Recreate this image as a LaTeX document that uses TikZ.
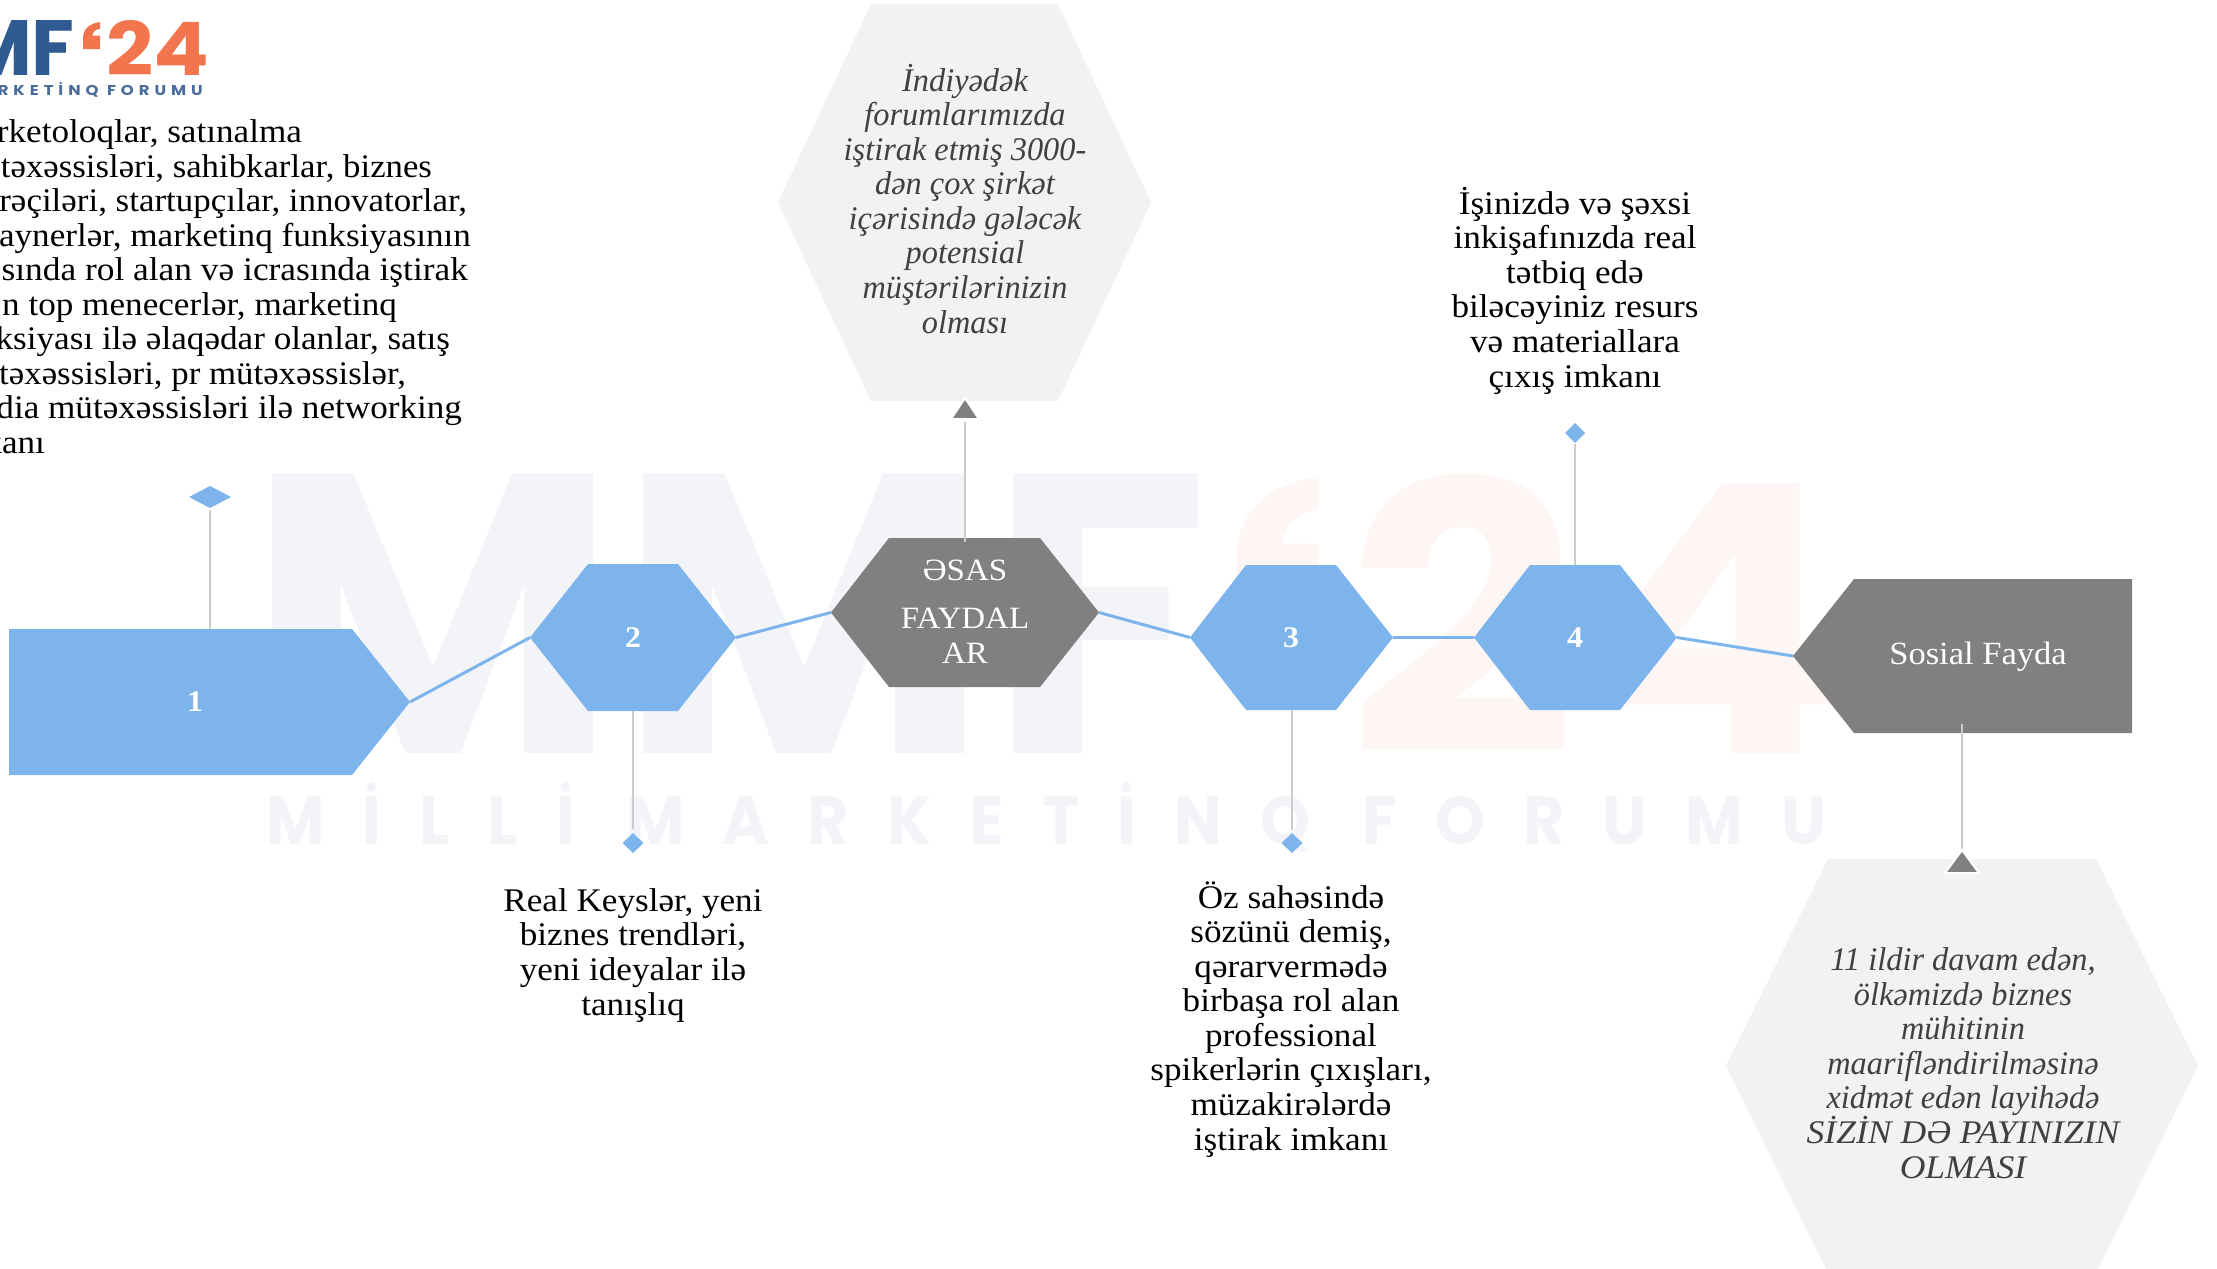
\documentclass[tikz,border=0pt]{standalone}
\usepackage{fontspec}
\usetikzlibrary{shapes.geometric}
\setmainfont[FakeStretch=1.065]{Liberation Serif}
\newfontfamily\itf[UprightFont=* Italic,FakeStretch=0.98]{Liberation Serif}
\newfontfamily\pop{Poppins}
\definecolor{blu}{HTML}{7DB4EC}
\definecolor{dgr}{HTML}{808080}
\definecolor{lgr}{HTML}{F2F2F2}
\definecolor{wire}{HTML}{CBCBCB}
\definecolor{ital}{HTML}{404040}
\definecolor{wmb}{HTML}{F3F4F8}
\definecolor{wmo}{HTML}{FEF6F4}
\definecolor{logob}{HTML}{2F5A92}
\definecolor{logoo}{HTML}{F2754D}
\definecolor{logos}{HTML}{4A6C9A}
\newcommand{\bodysize}{\fontsize{33}{34.55}\selectfont}
\tikzset{
  x=1pt,y=-1pt,
  txt/.style={inner sep=0pt,outer sep=0pt,align=center,anchor=base,font=\bodysize,text=black},
  ittxt/.style={txt,font=\bodysize\itf,text=ital},
  wtxt/.style={txt,text=white,font=\fontsize{31}{34.55}\selectfont},
  sotxt/.style={txt,text=white,font=\fontsize{32.4}{34.55}\selectfont},
  numtxt/.style={txt,font=\fontsize{30}{34}\selectfont\bfseries,text=white},
  flowline/.style={draw=blu,line width=3pt},
  stem/.style={draw=wire,line width=1.8pt},
  dia/.style={diamond,fill=blu,inner sep=0pt,outer sep=0pt},
  tri/.style={fill=dgr,draw=white,line width=2pt},
}
% \hexa{name}{fill}{left}{tl}{tr}{right}{top}{bottom}
\newcommand{\hexa}[8]{%
  \pgfmathsetmacro{\midy}{(#7+#8)/2}%
  \fill[#2] (#3,\midy) -- (#4,#7) -- (#5,#7) -- (#6,\midy) -- (#5,#8) -- (#4,#8) -- cycle;
  \coordinate (#1-l) at (#3,\midy);
  \coordinate (#1-r) at (#6,\midy);
}
% \quoteshape{x}{y}{w}{h}{colour}: the curled mark of the logo
\newcommand{\quoteshape}[5]{%
  \begin{scope}[shift={(#1,#2)},xscale=#3,yscale=#4]
    \fill[#5] (1,0) .. controls (0.4,0.05) and (0,0.25) .. (0,0.6) -- (0,1) -- (1,1) -- (1,0.5) -- (0.55,0.5)
      .. controls (0.6,0.35) and (0.75,0.27) .. (1,0.25) -- cycle;
  \end{scope}
}
\begin{document}
\begin{tikzpicture}
\useasboundingbox (0,0) rectangle (2217,1269);
\clip (0,0) rectangle (2217,1269);
% watermark
\node[inner sep=0pt,anchor=north west,text=wmb] (wm1) at (247,473) {\resizebox{962pt}{279pt}{\pop\bfseries MMF}};
\quoteshape{1237}{477}{81}{133}{wmo}
\node[inner sep=0pt,anchor=north west,text=wmo] (wm3) at (1347,473) {\resizebox{501pt}{279pt}{\pop\bfseries 24}};
\node[inner sep=0pt,anchor=north west,text=wmb] (wm4) at (266,782) {\resizebox{1560pt}{62pt}{\pop\bfseries\addfontfeature{LetterSpace=60}MİLLİ MARKETİNQ FORUMU}};
% logo
\node[inner sep=0pt,anchor=north east,text=logob] (lg1) at (75,20) {\resizebox{!}{55pt}{\pop\bfseries MF}};
\quoteshape{83}{22}{17}{27}{logoo}
\node[inner sep=0pt,anchor=north west,text=logoo] (lg3) at (106,20) {\resizebox{103pt}{55pt}{\pop\bfseries 24}};
\node[inner sep=0pt,anchor=north east,text=logos] (lg4) at (203,82) {\resizebox{205pt}{13pt}{\pop\bfseries\addfontfeature{LetterSpace=30}RKETİNQ FORUMU}};
% shapes
\hexa{top}{lgr}{778}{871}{1058}{1151}{4}{401}
\hexa{bot}{lgr}{1726}{1828}{2096}{2198}{859}{1273}
\hexa{h2}{blu}{530}{588}{678}{736}{564}{711}
\hexa{es}{dgr}{831}{889}{1040}{1099}{538}{687}
\hexa{h3}{blu}{1190}{1246}{1336}{1393}{565}{710}
\hexa{h4}{blu}{1474}{1530}{1620}{1677}{565}{710}
\fill[blu] (9,629) -- (352,629) -- (410,702) -- (352,775) -- (9,775) -- cycle;
\coordinate (h1-r) at (410,702);
\coordinate (h1-t) at (210,629);
\fill[dgr] (1793,656) -- (1854,579) -- (2132,579) -- (2132,733) -- (1854,733) -- cycle;
\coordinate (so-l) at (1793,656);
% flow connectors
\draw[flowline] (h1-r) -- (h2-l);
\draw[flowline] (h2-r) -- (es-l);
\draw[flowline] (es-r) -- (h3-l);
\draw[flowline] (h3-r) -- (h4-l);
\draw[flowline] (h4-r) -- (so-l);
% markers
\node[dia,minimum width=42pt,minimum height=22pt] (d1) at (210,497) {};
\node[dia,minimum width=21pt,minimum height=20pt] (d2) at (633,843) {};
\node[dia,minimum width=21pt,minimum height=20pt] (d3) at (1292,843) {};
\node[dia,minimum width=20pt,minimum height=20pt] (d4) at (1575,433) {};
\coordinate (s2) at (633,711);
\coordinate (s3) at (1292,710);
\coordinate (s4) at (1575,565);
\coordinate (s1a) at (210,510);
\coordinate (s2a) at (633,829);
\coordinate (s3a) at (1292,830);
\coordinate (s4a) at (1575,444);
\draw[stem] (s1a) -- (h1-t);
\draw[stem] (s2) -- (s2a);
\draw[stem] (s3) -- (s3a);
\draw[stem] (s4a) -- (s4);
% triangle markers
\coordinate (ta) at (965,398);
\coordinate (tb) at (1962,850);
\coordinate (ta1) at (965,422);
\coordinate (ta2) at (965,542);
\coordinate (tb1) at (1962,849);
\coordinate (tb2) at (1962,724);
\draw[stem] (ta1) -- (ta2);
\draw[stem] (tb2) -- (tb1);
\draw[tri] (ta) -- (951,419) -- (979,419) -- cycle;
\draw[tri] (tb) -- (1945,873) -- (1979,873) -- cycle;
% labels in shapes
\node[numtxt] (n1) at (195,711) {1};
\node[numtxt] (n2) at (633,647) {2};
\node[numtxt] (n3) at (1291,647) {3};
\node[numtxt] (n4) at (1575,647) {4};
\node[wtxt] (es1) at (965,580) {ƏSAS};
\node[wtxt] (es2) at (965,663) {FAYDAL\\AR};
\node[sotxt] (so1) at (1978,664) {Sosial Fayda};
% texts
\node[txt,anchor=base east] (a1) at (302,142.5) {rketoloqlar, satınalma};
\node[txt,anchor=base east] (a2) at (432,177) {\scalebox{0.989}[1]{təxəssisləri, sahibkarlar, biznes}};
\node[txt,anchor=base east] (a3) at (467,211.5) {\scalebox{0.994}[1]{rəçiləri, startupçılar, innovatorlar,}};
\node[txt,anchor=base east] (a4) at (471,246) {aynerlər, marketinq funksiyasının};
\node[txt,anchor=base east] (a5) at (468,280.5) {\scalebox{1.006}[1]{sında rol alan və icrasında iştirak}};
\node[txt,anchor=base east] (a6) at (397,315) {n top menecerlər, marketinq};
\node[txt,anchor=base east] (a7) at (450,349.5) {ksiyası ilə əlaqədar olanlar, satış};
\node[txt,anchor=base east] (a8) at (406,384) {\scalebox{0.991}[1]{təxəssisləri, pr mütəxəssislər,}};
\node[txt,anchor=base east] (a9) at (462,418.5) {dia mütəxəssisləri ilə networking};
\node[txt,anchor=base east] (a10) at (45,453) {kanı};
\node[txt] (t2) at (633,1015) {Real Keyslər, yeni\\biznes trendləri,\\yeni ideyalar ilə\\tanışlıq};
\node[txt] (t3) at (1291,1150) {Öz sahəsində\\sözünü demiş,\\qərarvermədə\\birbaşa rol alan\\professional\\spikerlərin çıxışları,\\müzakirələrdə\\iştirak imkanı};
\node[txt] (t4) at (1575,387) {İşinizdə və şəxsi\\inkişafınızda real\\tətbiq edə\\biləcəyiniz resurs\\və materiallara\\çıxış imkanı};
\node[ittxt] (t5) at (965,333) {İndiyədək\\forumlarımızda\\iştirak etmiş 3000-\\dən çox şirkət\\içərisində gələcək\\potensial\\müştərilərinizin\\olması};
\node[ittxt] (t6) at (1963,1178) {11 ildir davam edən,\\ölkəmizdə biznes\\mühitinin\\maarifləndirilməsinə\\xidmət edən layihədə\\\scalebox{1.1}[1]{SİZİN DƏ PAYINIZIN}\\\scalebox{1.1}[1]{OLMASI}};
\end{tikzpicture}
\end{document}
